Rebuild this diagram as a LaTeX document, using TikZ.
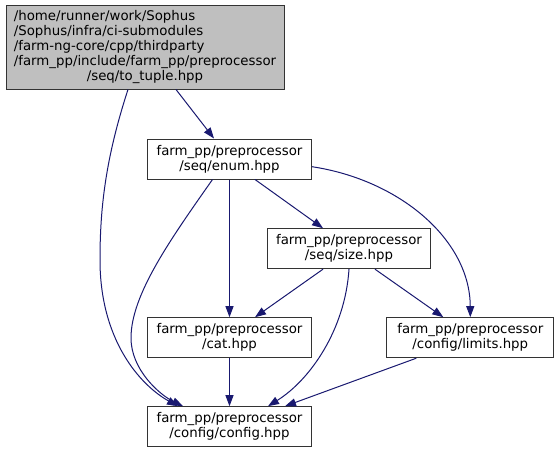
\documentclass[tikz,border=0pt]{standalone}
\usepackage{fontspec}
\setmainfont{DejaVu Sans}
\usetikzlibrary{arrows.meta}
\definecolor{edgecol}{HTML}{191970}
\definecolor{topfill}{HTML}{BFBFBF}
\begin{document}
\begin{tikzpicture}[x=1pt,y=-1pt,
  file/.style={draw=black!80, line width=1pt, fill=white, minimum height=40pt, inner sep=0pt, align=center, font=\fontsize{13.33}{15}\selectfont},
  dep/.style={draw=edgecol, line width=1pt, -{Triangle[length=11pt,width=8pt]}}]
\useasboundingbox (0,0) rectangle (557,453);
\node[file, fill=topfill, minimum width=278pt, minimum height=84pt] (top) at (145,47)
  {\begin{tabular}{@{}l@{}}/home/runner/work/Sophus\\/Sophus/infra/ci-submodules\\/farm-ng-core/cpp/thirdparty\\/farm\_pp/include/farm\_pp/preprocessor\\\multicolumn{1}{@{}c@{}}{/seq/to\_tuple.hpp}\end{tabular}};
\node[file, minimum width=164pt] (enum) at (229.5,159) {farm\_pp/preprocessor\\/seq/enum.hpp};
\node[file, minimum width=163pt] (size) at (349,248.7) {farm\_pp/preprocessor\\/seq/size.hpp};
\node[file, minimum width=164pt] (cat) at (229.5,337.7) {farm\_pp/preprocessor\\/cat.hpp};
\node[file, minimum width=167pt] (limits) at (470.3,337.7) {farm\_pp/preprocessor\\/config/limits.hpp};
\node[file, minimum width=164pt] (config) at (229.5,426.7) {farm\_pp/preprocessor\\/config/config.hpp};

\draw[dep] ([xshift=31pt]top.south) -- ([xshift=-15.5pt]enum.north);
\draw[dep] ([xshift=-17pt]top.south) .. controls (105,160) and (100,210) .. (100,260)
  .. controls (100,340) and (140,385) .. ([xshift=-51.5pt]config.north);
\draw[dep] ([xshift=-17pt]enum.south) .. controls (170,240) and (131,295) .. (131,338)
  .. controls (131,370) and (160,395) .. ([xshift=-46.5pt]config.north);
\draw[dep] (enum.south) -- (cat.north);
\draw[dep] ([xshift=25.5pt]enum.south) -- ([xshift=-26pt]size.north);
\draw[dep] ([yshift=-7.7pt]enum.east) .. controls (400,180) and (470,240) .. (limits.north);
\draw[dep] ([xshift=-26pt]size.south) -- ([xshift=25.5pt]cat.north);
\draw[dep] (size.south) .. controls (345,330) and (310,380) .. ([xshift=38.5pt]config.north);
\draw[dep] ([xshift=26pt]size.south) -- ([xshift=-27pt]limits.north);
\draw[dep] ([xshift=-54pt]limits.south) -- ([xshift=55.5pt]config.north);
\draw[dep] (cat) -- (config);
\end{tikzpicture}
\end{document}
